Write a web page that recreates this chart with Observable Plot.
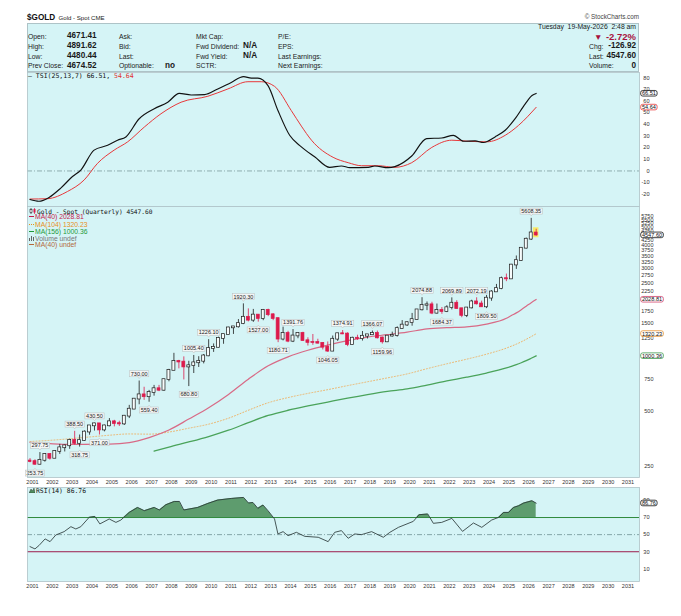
<!DOCTYPE html>
<html>
<head>
<meta charset="utf-8">
<script src="https://cdn.jsdelivr.net/npm/d3@7"></script>
<script src="https://cdn.jsdelivr.net/npm/@observablehq/plot@0.6"></script>
<style>
html,body{margin:0;padding:0;background:#fff;}
#wrap{position:relative;width:681px;height:616px;overflow:hidden;background:#fff;font-family:"Liberation Sans",Arial,sans-serif;color:#1a1a1a;}
.t{position:absolute;white-space:nowrap;line-height:1;}
.mono{font-family:"DejaVu Sans Mono",monospace;}
#hdr{position:absolute;left:27px;top:23px;width:610px;height:47px;background:#d5f4f6;border:1px solid #aec3c7;}
</style>
</head>
<body>
<div id="wrap"><div id="hdr"></div></div>
<script>
// ---------------- DATA ----------------
const quarters = ["2000Q4",
"2001Q1","2001Q2","2001Q3","2001Q4","2002Q1","2002Q2","2002Q3","2002Q4",
"2003Q1","2003Q2","2003Q3","2003Q4","2004Q1","2004Q2","2004Q3","2004Q4",
"2005Q1","2005Q2","2005Q3","2005Q4","2006Q1","2006Q2","2006Q3","2006Q4",
"2007Q1","2007Q2","2007Q3","2007Q4","2008Q1","2008Q2","2008Q3","2008Q4",
"2009Q1","2009Q2","2009Q3","2009Q4","2010Q1","2010Q2","2010Q3","2010Q4",
"2011Q1","2011Q2","2011Q3","2011Q4","2012Q1","2012Q2","2012Q3","2012Q4",
"2013Q1","2013Q2","2013Q3","2013Q4","2014Q1","2014Q2","2014Q3","2014Q4",
"2015Q1","2015Q2","2015Q3","2015Q4","2016Q1","2016Q2","2016Q3","2016Q4",
"2017Q1","2017Q2","2017Q3","2017Q4","2018Q1","2018Q2","2018Q3","2018Q4",
"2019Q1","2019Q2","2019Q3","2019Q4","2020Q1","2020Q2","2020Q3","2020Q4",
"2021Q1","2021Q2","2021Q3","2021Q4","2022Q1","2022Q2","2022Q3","2022Q4",
"2023Q1","2023Q2","2023Q3","2023Q4","2024Q1","2024Q2","2024Q3","2024Q4",
"2025Q1","2025Q2","2025Q3","2025Q4","2026Q1","2026Q2"];
const opens = [268,
266,257,270,291,277,302,316,324,
347,334,346,385,416,427,395,416,
438,428,426,470,513,582,614,599,
632,663,650,743,834,933,926,870,
884,917,935,1000,1097,1113,1245,1307,
1421,1439,1500,1624,1564,1669,1598,1772,
1675,1597,1234,1327,1202,1284,1327,1210,
1184,1183,1172,1115,1061,1233,1321,1316,
1151,1249,1242,1280,1303,1325,1253,1192,
1282,1292,1409,1472,1517,1577,1781,1886,
1898,1708,1770,1743,1829,1937,1807,1661,
1824,1969,1919,1849,2063,2230,2326,2635,
2624,3124,3303,3858,4320,4671.41];
const highs = [276,
272,297.75,294,293,305,330,327,352,
388.5,371,391,417,430.5,428,420,456,
446,441,474,538,586,730,675,649,
691,691,745,845,1033,946,988,935,
1005.4,990,1018,1226.1,1162,1265,1310,1431,
1447,1577,1920.3,1803,1791,1676,1790,1796,
1697,1605,1434,1361,1391.76,1332,1345,1255,
1308,1232,1178,1191,1283,1325,1374.91,1337,
1264,1296,1358,1306,1366.07,1365,1265,1287,
1347,1439,1557,1535,1703,1789,2074.88,1966,
1959,1916,1834,1877,2069.89,1998,1814,1833,
2009,2072.19,1987,2135,2265,2450,2685,2790,
3148,3500,3872,4381,5608.35,4891.62];
const lows = [262,
253.75,255,264,271,277,291,300,310,
327,318.75,342,370,390,371,386,411,
411,413,418,456,510,542,573,559.4,
604,639,642,723,832,850,740,680.8,
802,865,905,990,1045,1105,1157,1305,
1309,1418,1480,1531,1523,1527,1555,1636,
1555,1180.71,1207,1180,1182,1240,1206,1132,
1142,1162,1077,1046.05,1060,1200,1306,1123,
1146,1214,1205,1236,1302,1237,1159.96,1182,
1266,1266,1400,1446,1451,1567,1757,1764,
1677,1690,1684.37,1721,1780,1805,1614,1617,
1804,1893,1846,1809.5,1984,2225,2293,2536,
2614,2957,3268,3820,4250,4480.44];
const closes = [266,
257,270,291,277,302,316,324,347,
334,346,385,416,427,395,416,438,
428,426,470,513,582,614,599,632,
663,650,743,834,933,926,870,884,
917,935,1000,1097,1113,1245,1307,1421,
1439,1500,1624,1564,1669,1598,1772,1675,
1597,1234,1327,1202,1284,1327,1210,1184,
1183,1172,1115,1061,1233,1321,1316,1151,
1249,1242,1280,1303,1325,1253,1192,1282,
1292,1409,1472,1517,1577,1781,1886,1898,
1708,1770,1743,1829,1937,1807,1661,1824,
1969,1919,1849,2063,2230,2326,2635,2624,
3124,3303,3858,4320,4674.52,4547.6];

// swing labels
const hiLabelQuarters = ["2001Q2","2003Q1","2004Q1","2006Q2","2009Q1","2009Q4","2011Q3","2014Q1","2016Q3","2018Q1","2020Q3","2022Q1","2023Q2","2026Q1"];
const hiLabelValues   = [297.75,388.50,430.50,730.00,1005.40,1226.10,1920.30,1391.76,1374.91,1366.07,2074.88,2069.89,2072.19,5608.35];
const loLabelQuarters = ["2001Q1","2003Q2","2004Q2","2006Q4","2008Q4","2012Q2","2013Q2","2015Q4","2018Q3","2021Q3","2023Q4"];
const loLabelValues   = [253.75,318.75,371.00,559.40,680.80,1527.00,1180.71,1046.05,1159.96,1684.37,1809.50];

// moving averages
const ma40Years  = [2000.75,2001.75,2002.75,2004.75,2005.75,2006.75,2007.75,2008.75,2009.75,2010.75,2011.75,2012.75,2013.75,2014.75,2015.75,2016.75,2017.75,2018.75,2019.75,2020.75,2021.75,2022.75,2023.75,2024.75,2025.0,2025.25,2025.5,2025.75,2026.0,2026.25];
const ma40Values = [338,333,330,331,337,359,395,453,522,617,747,883,988,1073,1145,1210,1266,1305,1347,1402,1424,1438,1491,1603,1660,1715,1785,1865,1950,2028.81];
const ma104Years  = [2000.75,2001.75,2002.75,2003.75,2004.75,2005.75,2006.75,2007.75,2008.75,2009.75,2010.75,2011.75,2012.75,2013.75,2014.75,2015.75,2016.75,2017.75,2018.75,2019.75,2020.75,2021.75,2022.75,2023.75,2024.75,2025.0,2025.25,2025.5,2025.75,2026.0,2026.25];
const ma104Values = [342,347,354,362,370,376,375,385,404,425,458,506,556,593,625,655,689,723,759,798,852,906,960,1022,1103,1130,1159,1193,1232,1274,1320.23];
const ma156Years  = [2007.0,2007.75,2008.75,2009.75,2010.75,2011.75,2012.75,2013.75,2014.75,2015.75,2016.75,2017.75,2018.75,2019.75,2020.75,2021.75,2022.75,2023.75,2024.75,2025.0,2025.25,2025.5,2025.75,2026.0,2026.25];
const ma156Values = [303,319,340,364,394,433,474,506,534,561,589,616,641,661,694,731,766,807,860,877,896,918,943,971,1000.36];

// TSI(25,13,7)
const tsiYears  = [2000.75,2001.2,2001.71,2002.3,2002.89,2003.31,2003.98,2004.66,2005.16,2005.58,2006.25,2007.01,2007.69,2008.27,2008.87,2009.54,2010.21,2010.89,2011.51,2011.9,2012.23,2012.74,2013.24,2013.83,2014.42,2015.09,2015.85,2016.44,2016.86,2017.79,2018.12,2018.8,2019.13,2019.98,2020.73,2021.49,2022.08,2022.59,2023.17,2023.6,2024.18,2024.69,2025.19,2025.7,2026.04,2026.25];
const tsiValues = [-24.5,-26,-22.7,-14.7,-4.8,0.8,17.9,22,26.4,29.2,44.8,53.4,59,66.6,65.2,65.5,70.4,76,80.9,79.7,79.7,73.2,51.9,30.6,20.7,12.2,3.1,4.3,2.8,3.1,4.3,2.8,3.7,12.8,27.8,28.3,30.6,25.5,25.8,24.4,29.2,34.9,44.9,57.6,64.7,66.51];
const sigYears  = [2000.75,2001.63,2002.64,2003.48,2004.15,2004.99,2005.67,2006.51,2007.35,2008.36,2009.71,2010.72,2011.73,2012.4,2013.07,2013.91,2014.42,2014.93,2016.02,2016.78,2017.45,2018.3,2019.13,2019.98,2020.99,2022.0,2022.84,2023.77,2024.69,2025.36,2026.25];
const sigValues = [-24.1,-23.8,-17.6,-7.7,6.5,17.9,25,37.7,49.1,59,64.1,70.4,76.6,76.6,72.6,51.9,38.5,26.4,11.7,7.1,4.5,4.5,3.1,7.1,20.2,26.4,25.5,25,30.6,39.1,54.64];

// RSI(14)
const rsiYears  = [2000.75,2001.0,2001.2,2001.51,2001.76,2002.05,2002.47,2002.81,2003.06,2003.31,2003.73,2004.02,2004.27,2004.74,2005.08,2005.33,2005.75,2006.17,2006.51,2007.01,2007.27,2007.6,2008.02,2008.28,2008.5,2009.2,2009.71,2010.21,2010.89,2011.51,2011.76,2011.98,2012.23,2012.49,2012.74,2013.07,2013.24,2013.5,2013.75,2014.17,2014.59,2015.27,2015.77,2016.1,2016.44,2016.78,2017.11,2017.45,2017.96,2018.55,2018.88,2019.31,2020.06,2020.35,2020.79,2021.07,2021.49,2022.0,2022.54,2023.09,2023.51,2024.01,2024.36,2024.61,2024.86,2025.11,2025.37,2025.62,2026.04,2026.25];
const rsiValues = [36,33.3,37.2,45,41.8,49.6,53.5,59.3,56.6,59.3,70.2,71.3,62.5,68.3,64.3,67.1,76,81.8,78,81.8,78.8,85,88.8,88.8,78.8,81.8,86.5,90.4,92.3,93.5,86.9,87.6,80.7,84.6,78,68.3,50.8,53.5,48.8,52.7,48,46.9,41.8,52.7,54.7,45.7,50.8,50,53.5,46.9,52.7,58.5,65.5,73.3,74.1,63.2,64.3,69,53.8,63.6,58.5,67.1,70.2,76,76,81.8,83.8,86.9,89.6,86.76];

// axis ticks (those hidden under the value tags in the reference are left out)
const years = [2001,2002,2003,2004,2005,2006,2007,2008,2009,2010,2011,2012,2013,2014,2015,2016,2017,2018,2019,2020,2021,2022,2023,2024,2025,2026,2027,2028,2029,2030,2031];
const priceTicks = [250,500,750,1250,1500,1750,2250,2500,2750,3000,3250,3500,3750,4000,4250,4750,5000,5250,5500,5750];
const tsiTicks = [-20,-10,0,10,20,30,40,50,60,70,80];
const rsiTicks = [10,30,50,70,90];
const priceTags = [4547.60, 2028.81, 1320.23, 1000.36];
const priceTagColors = ["#111111", "#d0426c", "#e8922e", "#3d9a4c"];
const tsiTags = [66.51, 54.64];
const tsiTagColors = ["#111111", "#e8383a"];
const rsiTags = [86.76];

// ---------------- STYLE ----------------
const BG = "#d5f4f6", BORDER = "#aec3c7";
const W = 681, ML = 27, MR = 42;
const X_DOMAIN = [2000.624, 2031.455];
const FONT = '"Liberation Sans", Arial, sans-serif';
const wrap = document.getElementById("wrap");
const qT = q => +q.slice(0, 4) + (+q.slice(5) - 1) / 4;

const candles = quarters.map((q, i) => ({t: qT(q), o: opens[i], h: highs[i], l: lows[i], c: closes[i]}));
const last = [candles[candles.length - 1]];
const upCol = "#1a1a1a", dnCol = "#dc1a4c";
const hiLabels = hiLabelQuarters.map((q, i) => ({t: qT(q), v: hiLabelValues[i]}));
const loLabels = loLabelQuarters.map((q, i) => ({t: qT(q), v: loLabelValues[i]}));
const toPts = (xs, ys) => xs.map((t, i) => ({t, v: ys[i]}));

const common = {
  width: W, marginLeft: ML, marginRight: MR,
  style: {background: "transparent", overflow: "visible", fontFamily: FONT},
  color: {type: "identity"}
};
const X = {domain: X_DOMAIN, axis: null};
const tickText = (ticks, dx, fs) => Plot.text(ticks, {y: d => d, text: d => String(d), frameAnchor: "right", dx, textAnchor: "end", fontSize: fs, fill: "#333", fontFamily: FONT});
const tagText = (vals, desc) => Plot.text(vals, {y: d => d, text: d => d.toFixed(2), frameAnchor: "right", dx: 2.4, textAnchor: "start", fontSize: 5.6, fill: "#111", fontFamily: FONT, ariaDescription: desc});
const yearText = Plot.text(years, {x: d => d - 0.125, text: d => String(d), frameAnchor: "bottom", dy: 6, fontSize: 5.5, fill: "#333", fontFamily: FONT});

function mount(svg, top) {
  svg.style.position = "absolute"; svg.style.left = "0px"; svg.style.top = top + "px";
  wrap.appendChild(svg); return svg;
}
const NS = "http://www.w3.org/2000/svg";
function groupTexts(svg, desc) {
  const g = svg.querySelector(`g[aria-description="${desc}"]`);
  return g ? Array.from(g.querySelectorAll("text")) : [];
}
function boxes(svg, desc, st) {
  groupTexts(svg, desc).forEach((el, i) => {
    const b = el.getBBox();
    const tr = el.getAttribute("transform");
    const stroke = typeof st.stroke === "function" ? st.stroke(i) : st.stroke;
    const r = document.createElementNS(NS, "rect");
    r.setAttribute("x", b.x - st.padX); r.setAttribute("y", b.y - st.padY);
    r.setAttribute("width", b.width + 2 * st.padX); r.setAttribute("height", b.height + 2 * st.padY);
    r.setAttribute("fill", st.fill); r.setAttribute("stroke", stroke); r.setAttribute("stroke-width", st.sw);
    if (st.rx) r.setAttribute("rx", st.rx);
    if (tr) r.setAttribute("transform", tr);
    el.parentNode.insertBefore(r, el);
    if (st.pointer) {
      const cx = b.x + b.width / 2;
      const p = document.createElementNS(NS, "path");
      let d;
      if (st.pointer === "down") { const yb = b.y + b.height + st.padY; d = `M${cx-1.6},${yb-0.3}L${cx},${yb+1.8}L${cx+1.6},${yb-0.3}`; }
      else { const yt = b.y - st.padY; d = `M${cx-1.6},${yt+0.3}L${cx},${yt-1.8}L${cx+1.6},${yt+0.3}`; }
      p.setAttribute("d", d); p.setAttribute("fill", st.fill); p.setAttribute("stroke", stroke); p.setAttribute("stroke-width", st.sw);
      if (tr) p.setAttribute("transform", tr);
      el.parentNode.insertBefore(p, el);
    }
  });
}

// ---------------- TSI PANEL ----------------
const tsiPlot = Plot.plot({
  ...common, height: 154, marginTop: 10, marginBottom: 10,
  x: X, y: {domain: [-30.5, 84.5], axis: null},
  marks: [
    Plot.frame({fill: BG, stroke: "none"}),
    Plot.ruleY([0], {stroke: "#7d9c9e", strokeWidth: 0.8, strokeDasharray: "5,2,1,2"}),
    Plot.line(toPts(sigYears, sigValues), {x: "t", y: "v", stroke: "#e8383a", strokeWidth: 1, curve: "monotone-x"}),
    Plot.line(toPts(tsiYears, tsiValues), {x: "t", y: "v", stroke: "#111", strokeWidth: 1.15, curve: "monotone-x"}),
    tickText(tsiTicks, 10, 5.6),
    tagText(tsiTags, "tsitag"),
    Plot.frame({stroke: BORDER, strokeWidth: 0.8})
  ]
});
mount(tsiPlot, 62);

// ---------------- PRICE PANEL ----------------
const mainPlot = Plot.plot({
  ...common, height: 295, marginTop: 10, marginBottom: 14,
  x: X, y: {type: "log", domain: [217.8, 6507], axis: null},
  marks: [
    Plot.frame({fill: BG, stroke: "none"}),
    Plot.line(toPts(ma156Years, ma156Values), {x: "t", y: "v", stroke: "#4aa35a", strokeWidth: 1.3, curve: "monotone-x"}),
    Plot.line(toPts(ma104Years, ma104Values), {x: "t", y: "v", stroke: "#eeb46a", strokeWidth: 1, strokeDasharray: "1,2", curve: "monotone-x"}),
    Plot.line(toPts(ma40Years, ma40Values), {x: "t", y: "v", stroke: "#d86a86", strokeWidth: 1.2, curve: "monotone-x"}),
    Plot.rect(last, {x1: d => d.t - 0.14, x2: d => d.t + 0.14, y1: "l", y2: "h", insetTop: -1.5, insetBottom: -1.5, fill: "#f6ec6a"}),
    Plot.ruleX(candles, {x: "t", y1: "l", y2: "h", stroke: d => d.c >= d.o ? upCol : dnCol, strokeWidth: 0.8}),
    Plot.rect(candles, {x1: d => d.t - 0.075, x2: d => d.t + 0.075, y1: d => Math.min(d.o, d.c), y2: d => Math.max(d.o, d.c),
      insetTop: -0.4, insetBottom: -0.4,
      fill: d => d.c >= d.o ? "#f7fcfc" : dnCol, stroke: d => d.c >= d.o ? upCol : dnCol, strokeWidth: 0.7}),
    Plot.text(hiLabels, {x: "t", y: "v", text: d => d.v.toFixed(2), dy: -7, fontSize: 5.5, fill: "#222", fontFamily: FONT, ariaDescription: "labup"}),
    Plot.text(loLabels, {x: "t", y: "v", text: d => d.v.toFixed(2), dy: 8, fontSize: 5.5, fill: "#222", fontFamily: FONT, ariaDescription: "labdn"}),
    tickText(priceTicks, 14, 5.5),
    tagText(priceTags, "pricetag"),
    yearText,
    Plot.frame({stroke: BORDER, strokeWidth: 0.8})
  ]
});
mount(mainPlot, 196);

// ---------------- RSI PANEL ----------------
const rsiPts = toPts(rsiYears, rsiValues);
const rsiPlot = Plot.plot({
  ...common, height: 118, marginTop: 10, marginBottom: 14,
  x: X, y: {domain: [-4.8, 105.1], axis: null},
  marks: [
    Plot.frame({fill: BG, stroke: "none"}),
    Plot.areaY(rsiPts, {x: "t", y1: 70, y2: "v", fill: "#5e9c6e", ariaDescription: "rsifill"}),
    Plot.ruleY([50], {stroke: "#6f9294", strokeWidth: 0.8, strokeDasharray: "5,2,1,2"}),
    Plot.ruleY([70], {stroke: "#2f8a3c", strokeWidth: 1}),
    Plot.ruleY([30], {stroke: "#9c1c4c", strokeWidth: 1}),
    Plot.line(rsiPts, {x: "t", y: "v", stroke: "#2c3a3a", strokeWidth: 0.85}),
    tickText(rsiTicks, 10, 5.6),
    tagText(rsiTags, "rsitag"),
    yearText,
    Plot.frame({stroke: BORDER, strokeWidth: 0.8})
  ]
});
mount(rsiPlot, 477);

// clip RSI fill to the region above 70 (using the plot's own y scale)
{
  const ys = rsiPlot.scale("y");
  const y70 = typeof ys.apply === "function" ? ys.apply(70) : d3.scaleLinear(ys.domain, ys.range)(70);
  const defs = document.createElementNS(NS, "defs");
  const cp = document.createElementNS(NS, "clipPath"); cp.setAttribute("id", "rsiclip");
  cp.setAttribute("clipPathUnits", "userSpaceOnUse");
  const cr = document.createElementNS(NS, "rect");
  cr.setAttribute("x", 0); cr.setAttribute("y", 0); cr.setAttribute("width", W); cr.setAttribute("height", y70);
  cp.appendChild(cr); defs.appendChild(cp); rsiPlot.insertBefore(defs, rsiPlot.firstChild);
  const g = rsiPlot.querySelector('g[aria-description="rsifill"]');
  if (g && isFinite(y70)) g.setAttribute("clip-path", "url(#rsiclip)");
}

// boxes around labels and tags
boxes(mainPlot, "labup", {padX: 1.2, padY: 0, fill: "#f3f5f5", stroke: "#b9bdbd", sw: 0.5, pointer: "down"});
boxes(mainPlot, "labdn", {padX: 1.2, padY: 0, fill: "#f3f5f5", stroke: "#b9bdbd", sw: 0.5, pointer: "up"});
boxes(mainPlot, "pricetag", {padX: 1.2, padY: -0.2, fill: "#ffffff", stroke: i => priceTagColors[i], sw: 0.8, rx: 2});
boxes(tsiPlot, "tsitag", {padX: 1.2, padY: -0.2, fill: "#ffffff", stroke: i => tsiTagColors[i], sw: 0.8, rx: 2});
boxes(rsiPlot, "rsitag", {padX: 1.2, padY: -0.2, fill: "#ffffff", stroke: "#111", sw: 0.8, rx: 2});

// ---------------- TEXT ----------------
function T(txt, x, base, fs, o = {}) {
  const s = document.createElement("div");
  s.className = "t" + (o.mono ? " mono" : "");
  if (o.html) s.innerHTML = txt; else s.textContent = txt;
  s.style.fontSize = fs + "px";
  s.style.top = (base - 0.85 * fs) + "px";
  if (o.right) s.style.right = (W - x) + "px"; else s.style.left = x + "px";
  if (o.bold) s.style.fontWeight = "bold";
  if (o.color) s.style.color = o.color;
  wrap.appendChild(s); return s;
}
// title
T("$GOLD", 27, 20.7, 8.2, {bold: true, color: "#111"});
T("Gold - Spot CME", 58.5, 20.5, 6.1, {color: "#222"});
T("© StockCharts.com", 639, 19.3, 6.3, {right: true, color: "#444"});
// header table
const FS = 6.8, VB = 8.2, rows = [39.3, 49.3, 59.3, 68.7];
T("Open:", 28, rows[0], FS); T("4671.41", 67, rows[0], VB, {bold: true});
T("High:", 28, rows[1], FS); T("4891.62", 67, rows[1], VB, {bold: true});
T("Low:", 28, rows[2], FS); T("4480.44", 67, rows[2], VB, {bold: true});
T("Prev Close:", 28, rows[3], FS); T("4674.52", 67, rows[3], VB, {bold: true});
T("Ask:", 119, rows[0], FS); T("Bid:", 119, rows[1], FS); T("Last:", 119, rows[2], FS);
T("Optionable:", 119, rows[3], FS); T("no", 165, rows[3], VB, {bold: true});
T("Mkt Cap:", 196, rows[0], FS);
T("Fwd Dividend:", 196, rows[1], FS); T("N/A", 243, rows[1], VB, {bold: true});
T("Fwd Yield:", 196, rows[2], FS); T("N/A", 243, rows[2], VB, {bold: true});
T("SCTR:", 196, rows[3], FS);
T("P/E:", 278, rows[0], FS); T("EPS:", 278, rows[1], FS);
T("Last Earnings:", 278, rows[2], FS); T("Next Earnings:", 278, rows[3], FS);
T("Tuesday&nbsp; 19-May-2026&nbsp; 2:48 am", 636, 30, FS, {right: true, html: true});
T("▼", 594, 40, 8.5, {color: "#a8123c"});
T("-2.72%", 636, 40, 9.5, {right: true, bold: true, color: "#a8123c"});
T("Chg:", 589, rows[1], FS); T("-126.92", 636, rows[1], VB, {right: true, bold: true});
T("Last:", 589, rows[2], FS); T("4547.60", 636, rows[2], VB, {right: true, bold: true});
T("Volume:", 589, rows[3], FS); T("0", 636, rows[3], VB, {right: true, bold: true});

// panel legends
T('— TSI(25,13,7) 66.51, <span style="color:#e0302f">54.64</span>', 28, 78.7, 6.5, {mono: true, html: true, color: "#111"});
const candleIcon = '<svg width="7" height="6" style="vertical-align:-0.5px;margin-right:1px"><line x1="2" y1="0" x2="2" y2="6" stroke="#222" stroke-width="0.7"/><rect x="1" y="1.5" width="2" height="3" fill="#fff" stroke="#222" stroke-width="0.6"/><line x1="5.5" y1="0" x2="5.5" y2="6" stroke="#dc1a4c" stroke-width="0.7"/><rect x="4.5" y="1" width="2" height="3.5" fill="#dc1a4c"/></svg>';
T(candleIcon + "Gold - Spot (Quarterly) 4547.60", 29, 213.3, 6.2, {mono: true, html: true, color: "#111"});
T('<span style="display:inline-block;width:5px;border-top:1.2px solid #c51a4a;vertical-align:2px;margin-right:1px"></span>MA(40) 2028.81', 29, 220, 6.8, {html: true, color: "#c51a4a"});
T('<span style="display:inline-block;width:5px;border-top:1.2px dotted #e8901c;vertical-align:2px;margin-right:1px"></span>MA(104) 1320.23', 29, 227.3, 6.8, {html: true, color: "#e8901c"});
T('<span style="display:inline-block;width:5px;border-top:1.2px solid #1f9a3a;vertical-align:2px;margin-right:1px"></span>MA(156) 1000.36', 29, 234.7, 6.8, {html: true, color: "#1f9a3a"});
T('<svg width="5" height="5" style="margin-right:1px"><rect x="0" y="2" width="1" height="3" fill="#666"/><rect x="2" y="0" width="1" height="5" fill="#666"/><rect x="4" y="1" width="1" height="4" fill="#666"/></svg>Volume undef', 29, 241.3, 6.8, {html: true, color: "#777"});
T('<span style="display:inline-block;width:5px;border-top:1.2px solid #b4683c;vertical-align:2px;margin-right:1px"></span>MA(40) undef', 29, 248, 6.8, {html: true, color: "#b4683c"});
T('<svg width="6" height="5" style="margin-right:1px"><polygon points="0,5 2,1 3.5,3 5,0 6,5" fill="#4f8f5f" stroke="#222" stroke-width="0.4"/></svg>RSI(14) 86.76', 29, 493.3, 6.4, {mono: true, html: true, color: "#111"});
</script>
</body>
</html>
